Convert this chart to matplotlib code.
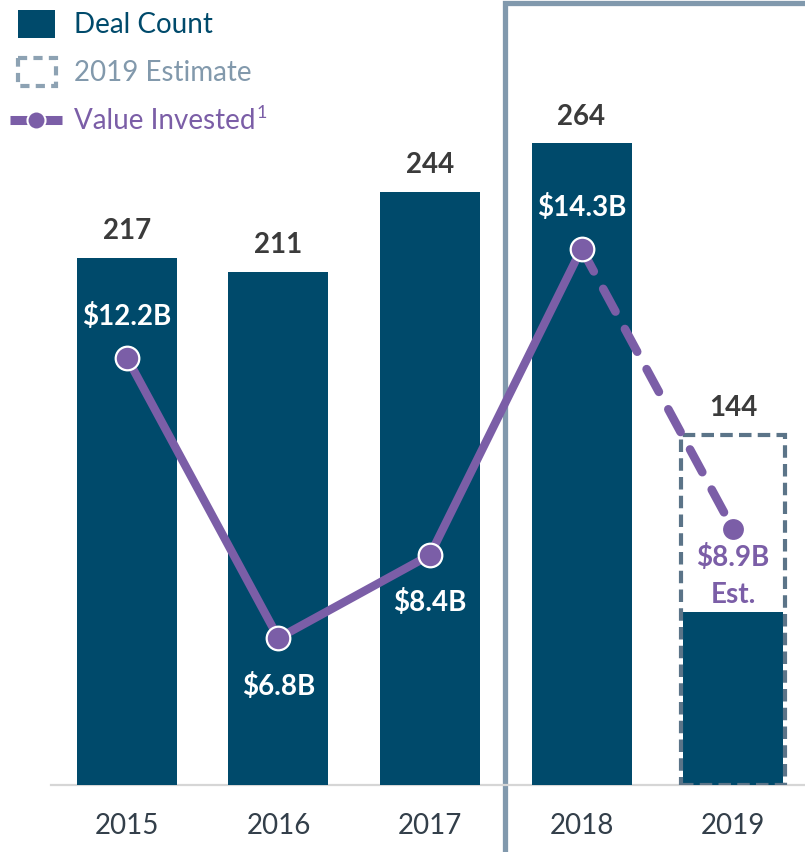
import matplotlib
matplotlib.use('Agg')
import matplotlib.pyplot as plt
from matplotlib.patches import Rectangle

plt.rcParams['font.family'] = ['Lato', 'DejaVu Sans']

years = ['2015', '2016', '2017', '2018', '2019']
deal_count = [217, 211, 244, 264, 71]
estimate_2019 = 144
count_labels = ['217', '211', '244', '264', '144']
value_invested = [12.2, 6.8, 8.4, 14.3, 8.9]
value_labels = [r'\$12.2B', r'\$6.8B', r'\$8.4B', r'\$14.3B', '\\$8.9B\nEst.']

bar_color = '#004a6b'
purple = '#7b5ea7'
est_color = '#5b7488'
frame_color = '#8199ad'
dark = '#3b3b3b'

W, H = 805, 852
fig = plt.figure(figsize=(W / 100, H / 100), dpi=100)

# overlay in pixel space for legend + the 2018-2019 frame
ov = fig.add_axes([0, 0, 1, 1])
ov.set_xlim(0, W)
ov.set_ylim(H, 0)
ov.axis('off')

ov.plot([505, 505, W + 5], [H + 5, 3, 3], color=frame_color, lw=3.8,
        solid_joinstyle='miter')

# legend
ov.add_patch(Rectangle((18, 10), 37, 28, color=bar_color, lw=0))
ov.add_patch(Rectangle((18, 58), 38, 28, fill=False, ec='#8da2b3', lw=3,
                       ls=(0, (2.2, 1.5))))
ov.plot([10, 62], [120, 120], color=purple, lw=6.5, solid_capstyle='butt')
ov.plot([36], [120], 'o', color=purple, ms=13, mec='white', mew=1.5)
ov.text(74, 25, 'Deal Count', color=bar_color, fontsize=20, va='center')
ov.text(74, 73, '2019 Estimate', color='#8299ac', fontsize=20, va='center')
vi = ov.text(74, 121, 'Value Invested', color=purple, fontsize=20, va='center')
ov.annotate('1', xy=(1, 1), xycoords=vi, xytext=(1, 2),
            textcoords='offset points', ha='left', va='top', color=purple,
            fontsize=13)

# main chart
ax = fig.add_axes([0, (H - 785) / H, 1, 785 / H])
ax.set_facecolor('none')
x = list(range(len(years)))
ax.bar(x, deal_count, width=0.66, color=bar_color, zorder=2)
ax.bar(x[-1], estimate_2019, width=0.69, fill=False, ec=est_color, lw=3,
       ls=(0, (3, 1.5)), zorder=3)
ax.plot([-0.5, 5], [0, 0], color='#d6d6d6', lw=1.6, zorder=1, clip_on=False)
ax.set_xlim(-0.838, 4.475)
ax.set_ylim(0, 323)
for s in ax.spines.values():
    s.set_visible(False)
ax.set_yticks([])
ax.set_xticks(x)
ax.set_xticklabels(years, fontsize=20, color='#333f4a')
ax.tick_params(axis='x', length=0, pad=20)

tops = deal_count[:-1] + [estimate_2019]
for xi, top, lab in zip(x, tops, count_labels):
    ax.annotate(lab, (xi, top), xytext=(0, 13.5), textcoords='offset points',
                ha='center', va='baseline', fontsize=20, fontweight='bold',
                color=dark)

ax2 = ax.twinx()
ax2.set_ylim(3.97, 19.09)
ax2.axis('off')
ax2.plot(x[:4], value_invested[:4], color=purple, lw=6,
         solid_capstyle='round', zorder=3)
ax2.plot(x[3:], value_invested[3:], color=purple, lw=6.2,
         ls=(0, (3, 2.3)), dash_capstyle='round', zorder=3)
ax2.plot(x[:4], value_invested[:4], 'o', color=purple, ms=17, mec='white',
         mew=1.6, zorder=4)
ax2.plot(x[4], value_invested[4], 'o', color=purple, ms=15, mew=0, zorder=4)

offsets = [30, -35, -34, 30]
for xi, v, lab, off in zip(x[:4], value_invested[:4], value_labels[:4], offsets):
    ax2.annotate(lab, (xi, v), xytext=(0, off), textcoords='offset points',
                 ha='center', va='center', fontsize=20, fontweight='bold',
                 color='white', zorder=5)
ax2.annotate(value_labels[4], (x[4], value_invested[4]), xytext=(0, -11),
             textcoords='offset points', ha='center', va='top', fontsize=20,
             fontweight='bold', color=purple, linespacing=1.5, zorder=5)

fig.savefig('out.png', dpi=100)
